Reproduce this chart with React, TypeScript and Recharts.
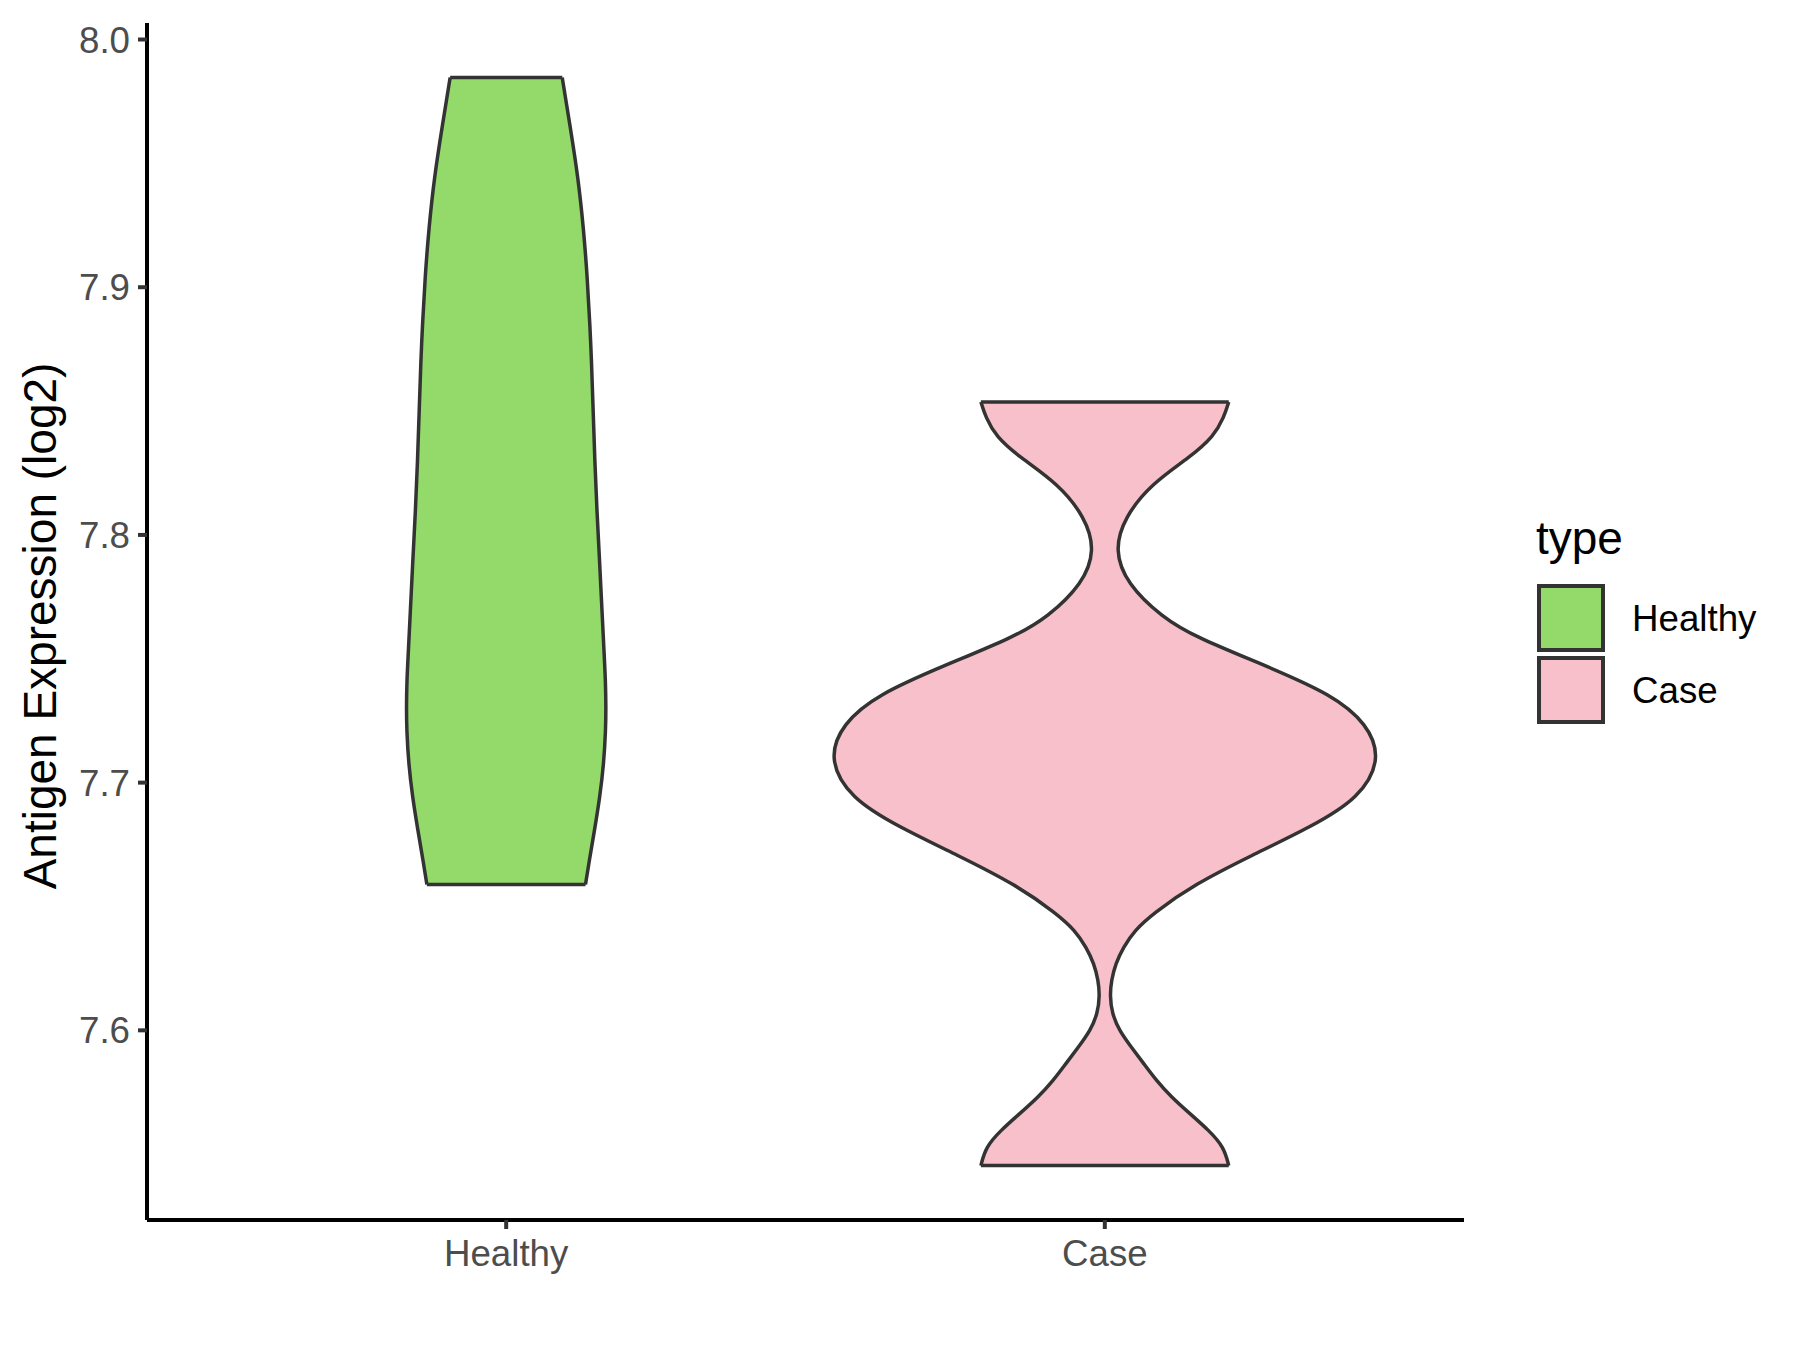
import React from "react";
import { ComposedChart, Area, XAxis, YAxis, ReferenceLine } from "recharts";

const categories = ["Healthy", "Case"];
const colors = ["#93DA6B", "#F7C0CB"];

const healthyY = [7.6589, 7.6673, 7.6807, 7.6942, 7.7077, 7.7211, 7.7312, 7.7413, 7.7494, 7.7695, 7.7897, 7.8099, 7.8301, 7.8503, 7.8705, 7.884, 7.9041, 7.9243, 7.9445, 7.9647, 7.9847];
const healthyHalfWidth = [0.1325, 0.138, 0.1475, 0.1565, 0.163, 0.1662, 0.1667, 0.1658, 0.1642, 0.16, 0.156, 0.1515, 0.148, 0.1453, 0.1425, 0.14, 0.1355, 0.129, 0.12, 0.107, 0.0936];

const caseY = [7.5454, 7.5529, 7.5596, 7.5664, 7.5731, 7.5798, 7.5866, 7.5933, 7.6, 7.6068, 7.6141, 7.6202, 7.6269, 7.6336, 7.6404, 7.6471, 7.659, 7.6706, 7.6822, 7.6937, 7.7095, 7.7239, 7.7355, 7.7471, 7.7587, 7.7669, 7.7803, 7.7938, 7.8072, 7.8207, 7.8315, 7.8398, 7.8475, 7.8537];
const caseHalfWidth = [0.207, 0.199, 0.174, 0.142, 0.111, 0.086, 0.065, 0.044, 0.024, 0.012, 0.0085, 0.011, 0.018, 0.031, 0.05, 0.08, 0.15, 0.245, 0.345, 0.425, 0.462, 0.438, 0.38, 0.27, 0.152, 0.095, 0.037, 0.016, 0.033, 0.078, 0.143, 0.182, 0.199, 0.207];

const yTicks = [7.6, 7.7, 7.8, 7.9, 8.0];
const xTicks = [1, 2];

const buildViolin = (ys: number[], ws: number[], center: number) =>
  ys.map((y, i) => ({ y, range: [center - ws[i], center + ws[i]] }));

const violins = [
  { name: categories[0], center: 1, data: buildViolin(healthyY, healthyHalfWidth, 1), ys: healthyY, ws: healthyHalfWidth },
  { name: categories[1], center: 2, data: buildViolin(caseY, caseHalfWidth, 2), ys: caseY, ws: caseHalfWidth },
];

const allY = [...healthyY, ...caseY];
const yMin = Math.min(...allY);
const yMax = Math.max(...allY);
const yPad = (yMax - yMin) * 0.05;
const yDomain = [yMin - yPad, yMax + yPad];

const FONT = "'Liberation Sans', Arial, sans-serif";
const OUT = "#333333";

const LegendBox = () => (
  <svg width={270} height={260} style={{ position: "absolute", left: 1520, top: 490 }}>
    <text x={16} y={64} fontSize={46} fontFamily={FONT} fill="#000">type</text>
    {categories.map((c, i) => (
      <g key={c}>
        <rect x={19} y={96 + i * 72} width={64} height={64} fill={colors[i]} stroke={OUT} strokeWidth={4} />
        <text x={112} y={128 + i * 72} fontSize={36.7} fontFamily={FONT} fill="#000" dominantBaseline="central">{c}</text>
      </g>
    ))}
  </svg>
);

export default function App() {
  return (
    <div style={{ position: "absolute", left: 0, top: 0, width: 1800, height: 1350, background: "#fff" }}>
      <ComposedChart
        width={1800}
        height={1350}
        layout="vertical"
        margin={{ top: 23, right: 336, bottom: 0, left: 0 }}
        style={{ fontFamily: FONT }}
      >
        <XAxis
          type="number"
          domain={[0.4, 2.6]}
          ticks={xTicks}
          allowDataOverflow
          height={130}
          tickFormatter={(v: number) => categories[v - 1]}
          axisLine={{ stroke: "#000", strokeWidth: 4 }}
          tickLine={{ stroke: OUT, strokeWidth: 4 }}
          tickSize={9}
          tickMargin={11}
          tick={{ fill: "#4D4D4D", fontSize: 36.7, fontFamily: FONT }}
        />
        <YAxis
          type="number"
          dataKey="y"
          domain={yDomain}
          ticks={yTicks}
          reversed
          allowDataOverflow
          width={147}
          tickFormatter={(v: number) => v.toFixed(1)}
          axisLine={{ stroke: "#000", strokeWidth: 4 }}
          tickLine={{ stroke: OUT, strokeWidth: 4 }}
          tickSize={9}
          tickMargin={8}
          tick={{ fill: "#4D4D4D", fontSize: 36.7, fontFamily: FONT }}
          label={{
            content: () => (
              <text x={40} y={626} transform="rotate(-90 40 626)" textAnchor="middle" dominantBaseline="central" fontSize={46} fontFamily={FONT} fill="#000">
                Antigen Expression (log2)
              </text>
            ),
          }}
        />
        {violins.map((v, i) => (
          <Area
            key={v.name}
            name={v.name}
            data={v.data}
            dataKey="range"
            type="basis"
            fill={colors[i]}
            fillOpacity={1}
            stroke={OUT}
            strokeWidth={3.5}
            isAnimationActive={false}
            dot={false}
            activeDot={false}
          />
        ))}
        {violins.map((v) => {
          const n = v.ys.length - 1;
          return [
            <ReferenceLine
              key={v.name + "-b"}
              segment={[{ x: v.center - v.ws[0], y: v.ys[0] }, { x: v.center + v.ws[0], y: v.ys[0] }]}
              stroke={OUT}
              strokeWidth={3.5}
            />,
            <ReferenceLine
              key={v.name + "-t"}
              segment={[{ x: v.center - v.ws[n], y: v.ys[n] }, { x: v.center + v.ws[n], y: v.ys[n] }]}
              stroke={OUT}
              strokeWidth={3.5}
            />,
          ];
        })}
      </ComposedChart>
      <LegendBox />
    </div>
  );
}
